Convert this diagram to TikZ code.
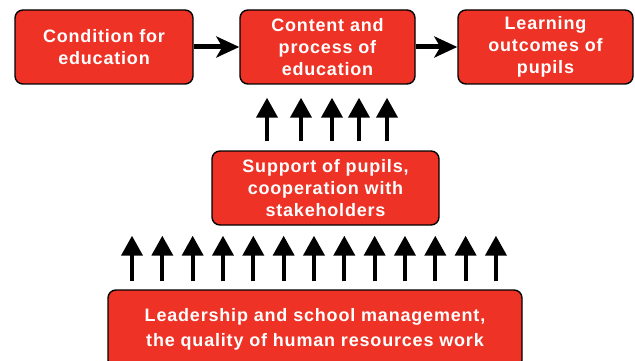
\documentclass[tikz,border=0pt]{standalone}
\usepackage{fontspec}
\setmainfont[LetterSpace=4.5]{Liberation Sans}
\usetikzlibrary{arrows.meta, positioning}
\definecolor{boxred}{RGB}{238,50,38}

\begin{document}
\begin{tikzpicture}[
	x=1pt, y=1pt,
	box/.style = {draw=black, line width=1.4pt, fill=boxred, rounded corners=8pt,
		inner sep=0pt, minimum height=74pt, align=center, text=white,
		font=\fontsize{18}{22}\selectfont\bfseries},
	flow/.style = {line width=5pt, -{Stealth[width=21pt,length=23pt,inset=6pt]}},
	up/.style = {line width=4pt, -{Triangle[width=21pt,length=20pt]}}
	]
	\useasboundingbox (0,0) rectangle (635,-361);
%
	\node[box, minimum width=178pt] (cond) at (104,-47) {Condition for\\education};
	\node[box, minimum width=175pt] (cont) at (327.5,-47) {Content and\\process of\\education};
	\node[box, minimum width=175pt] (outc) at (545.5,-47) {Learning\\outcomes of\\pupils};
	\node[box, minimum width=227pt] (supp) at (325.5,-188) {Support of pupils,\\cooperation with\\stakeholders};
	\node[box, minimum width=414pt, minimum height=78pt,
		font=\fontsize{18}{25}\selectfont\bfseries] (lead) at (315,-329)
		{Leadership and school management,\\the quality of human resources work};
%
	\draw[flow] (cond) -- (cont);
	\draw[flow] (cont) -- (outc);
%
	\foreach \dx in {-58.5,-24.5,6.5,33.5,61.5}
		\draw[up, shorten <=9pt, shorten >=13pt]
		([xshift=\dx pt] supp.north) -- ([xshift=\dx pt] supp.north |- cont.south);
%
	\foreach \i in {0,...,12}
		\draw[up, shorten <=8pt, shorten >=10pt]
		([xshift=-183pt+30.33pt*\i] lead.north) -- ([xshift=-183pt+30.33pt*\i] lead.north |- supp.south);
\end{tikzpicture}
\end{document}
